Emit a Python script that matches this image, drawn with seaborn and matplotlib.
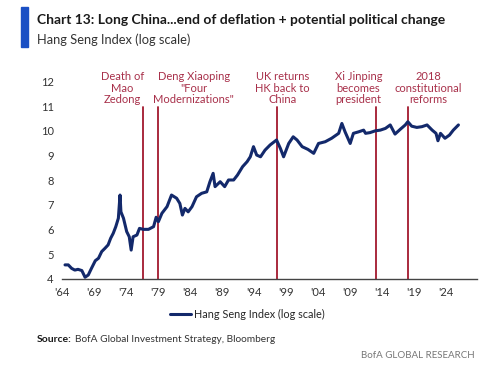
import matplotlib
matplotlib.use("Agg")
import matplotlib.pyplot as plt
import seaborn as sns
import pandas as pd

# Data: Hang Seng Index (natural log)
years = [1964.47, 1964.98, 1965.5, 1966.0, 1966.5, 1967.1, 1967.6, 1968.1, 1968.6, 1969.2,
         1969.7, 1970.2, 1970.7, 1971.2, 1971.6, 1972.0, 1972.4, 1972.8, 1973.06, 1973.2,
         1973.6, 1974.1, 1974.5, 1974.8, 1975.1, 1975.7, 1976.1, 1976.7, 1977.5, 1978.3,
         1978.7, 1979.05, 1979.6, 1980.4, 1981.1, 1981.9, 1982.4, 1982.8, 1983.2, 1983.7,
         1984.3, 1985.0, 1985.8, 1986.6, 1987.1, 1987.6, 1987.9, 1988.7, 1989.4, 1990.0,
         1990.8, 1991.4, 1992.2, 1992.9, 1993.4, 1993.9, 1994.4, 1995.0, 1995.7, 1996.5,
         1997.5, 1998.1, 1998.6, 1999.4, 2000.1, 2000.7, 2001.5, 2002.4, 2003.3, 2004.05,
         2005.1, 2006.1, 2007.2, 2007.7, 2008.2, 2009.0, 2009.5, 2010.3, 2011.1, 2011.4,
         2012.1, 2012.9, 2013.7, 2014.5, 2015.25, 2016.0, 2016.8, 2017.6, 2018.0, 2018.6,
         2019.4, 2020.2, 2021.0, 2021.8, 2022.4, 2022.7, 2023.1, 2023.8, 2024.5, 2025.1,
         2025.9]
values = [4.57, 4.57, 4.43, 4.36, 4.39, 4.34, 4.07, 4.16, 4.43, 4.74,
          4.84, 5.11, 5.24, 5.38, 5.65, 5.85, 6.12, 6.46, 7.40, 6.72,
          6.46, 5.92, 5.71, 5.17, 5.71, 5.78, 6.05, 6.01, 6.01, 6.12,
          6.50, 6.32, 6.66, 6.93, 7.40, 7.27, 7.06, 6.59, 6.86, 6.72,
          6.93, 7.33, 7.47, 7.53, 7.94, 8.28, 7.74, 7.94, 7.74, 8.01,
          8.01, 8.21, 8.55, 8.75, 8.95, 9.36, 9.02, 8.95, 9.22, 9.43,
          9.63, 9.29, 8.95, 9.49, 9.76, 9.63, 9.36, 9.25, 9.09, 9.49,
          9.56, 9.70, 9.90, 10.30, 9.96, 9.49, 9.90, 9.96, 10.03, 9.90,
          9.93, 10.00, 10.03, 10.10, 10.24, 9.87, 10.06, 10.24, 10.37, 10.19,
          10.14, 10.17, 10.24, 10.03, 9.90, 9.60, 9.90, 9.70, 9.83, 10.03,
          10.24]

event_years = [1976.7, 1978.95, 1997.5, 2013.1, 2018.1]
event_labels = ["Death of\nMao\nZedong", "Deng Xiaoping\n\"Four\nModernizations\"",
                "UK returns\nHK back to\nChina", "Xi Jinping\nbecomes\npresident",
                "2018\nconstitutional\nreforms"]
event_text_x = [1973.4, 1984.6, 1998.4, 2010.3, 2021.2]

tick_years = list(range(1964, 2025, 5))
tick_labels = ["'" + str(y)[2:] for y in tick_years]
y_ticks = [4, 5, 6, 7, 8, 9, 10, 11, 12]

sns.set_theme(style="white")
plt.rcParams['font.family'] = ['Lato', 'DejaVu Sans']

navy = "#13296b"
red = "#a3192e"
red_text = "#a8304a"

fig = plt.figure(figsize=(5.0, 3.69), dpi=100)
ax = fig.add_axes([0.124, 0.244, 0.83, 0.602])

df = pd.DataFrame({"year": years, "value": values})
sns.lineplot(data=df, x="year", y="value", ax=ax, color=navy, linewidth=2.2,
             label="Hang Seng Index (log scale)")

for ey, lab, tx in zip(event_years, event_labels, event_text_x):
    ax.plot([ey, ey], [4, 10.95], color=red, linewidth=1.3, zorder=1)
    ax.text(tx, 11.05, lab, color=red_text, fontsize=8, ha="center", va="bottom",
            linespacing=1.05)

ax.set_xlim(1964, 2028.8)
ax.set_ylim(4, 13)
ax.set_xticks(tick_years)
ax.set_xticklabels(tick_labels, fontsize=8, color="#333333")
ax.set_yticks(y_ticks)
ax.set_yticklabels([str(v) for v in y_ticks], fontsize=8, color="#333333")
ax.set_xlabel("")
ax.set_ylabel("")
for s in ["top", "right", "left"]:
    ax.spines[s].set_visible(False)
ax.spines["bottom"].set_color("#444444")
ax.spines["bottom"].set_linewidth(1.0)
ax.tick_params(axis="both", length=0, pad=6)

leg = ax.legend(loc="upper center", bbox_to_anchor=(0.446, -0.09), frameon=False,
                fontsize=7.8, handlelength=2.0, handletextpad=0.2)

# Title block
fig.patches.append(plt.Rectangle((21 / 500, 1 - 47 / 369), 7 / 500, 40 / 369,
                                 transform=fig.transFigure, color="#1a4fc4", zorder=5))
fig.text(37 / 500, 1 - 20 / 369, "Chart 13: Long China...end of deflation + potential political change",
         fontsize=10, fontweight="bold", color="#1a1a1a", va="center", ha="left")
fig.text(37 / 500, 1 - 40 / 369, "Hang Seng Index (log scale)",
         fontsize=9.3, color="#333333", va="center", ha="left")

fig.text(37 / 500, 1 - 339 / 369, "Source:", fontsize=7.5, fontweight="bold",
         color="#1a1a1a", va="center", ha="left")
fig.text(75 / 500, 1 - 339 / 369, "BofA Global Investment Strategy, Bloomberg",
         fontsize=7.3, color="#333333", va="center", ha="left")
fig.text(475 / 500, 1 - 356 / 369, "BofA GLOBAL RESEARCH", fontsize=7,
         color="#777777", va="center", ha="right")

fig.savefig("out.png", dpi=100)
